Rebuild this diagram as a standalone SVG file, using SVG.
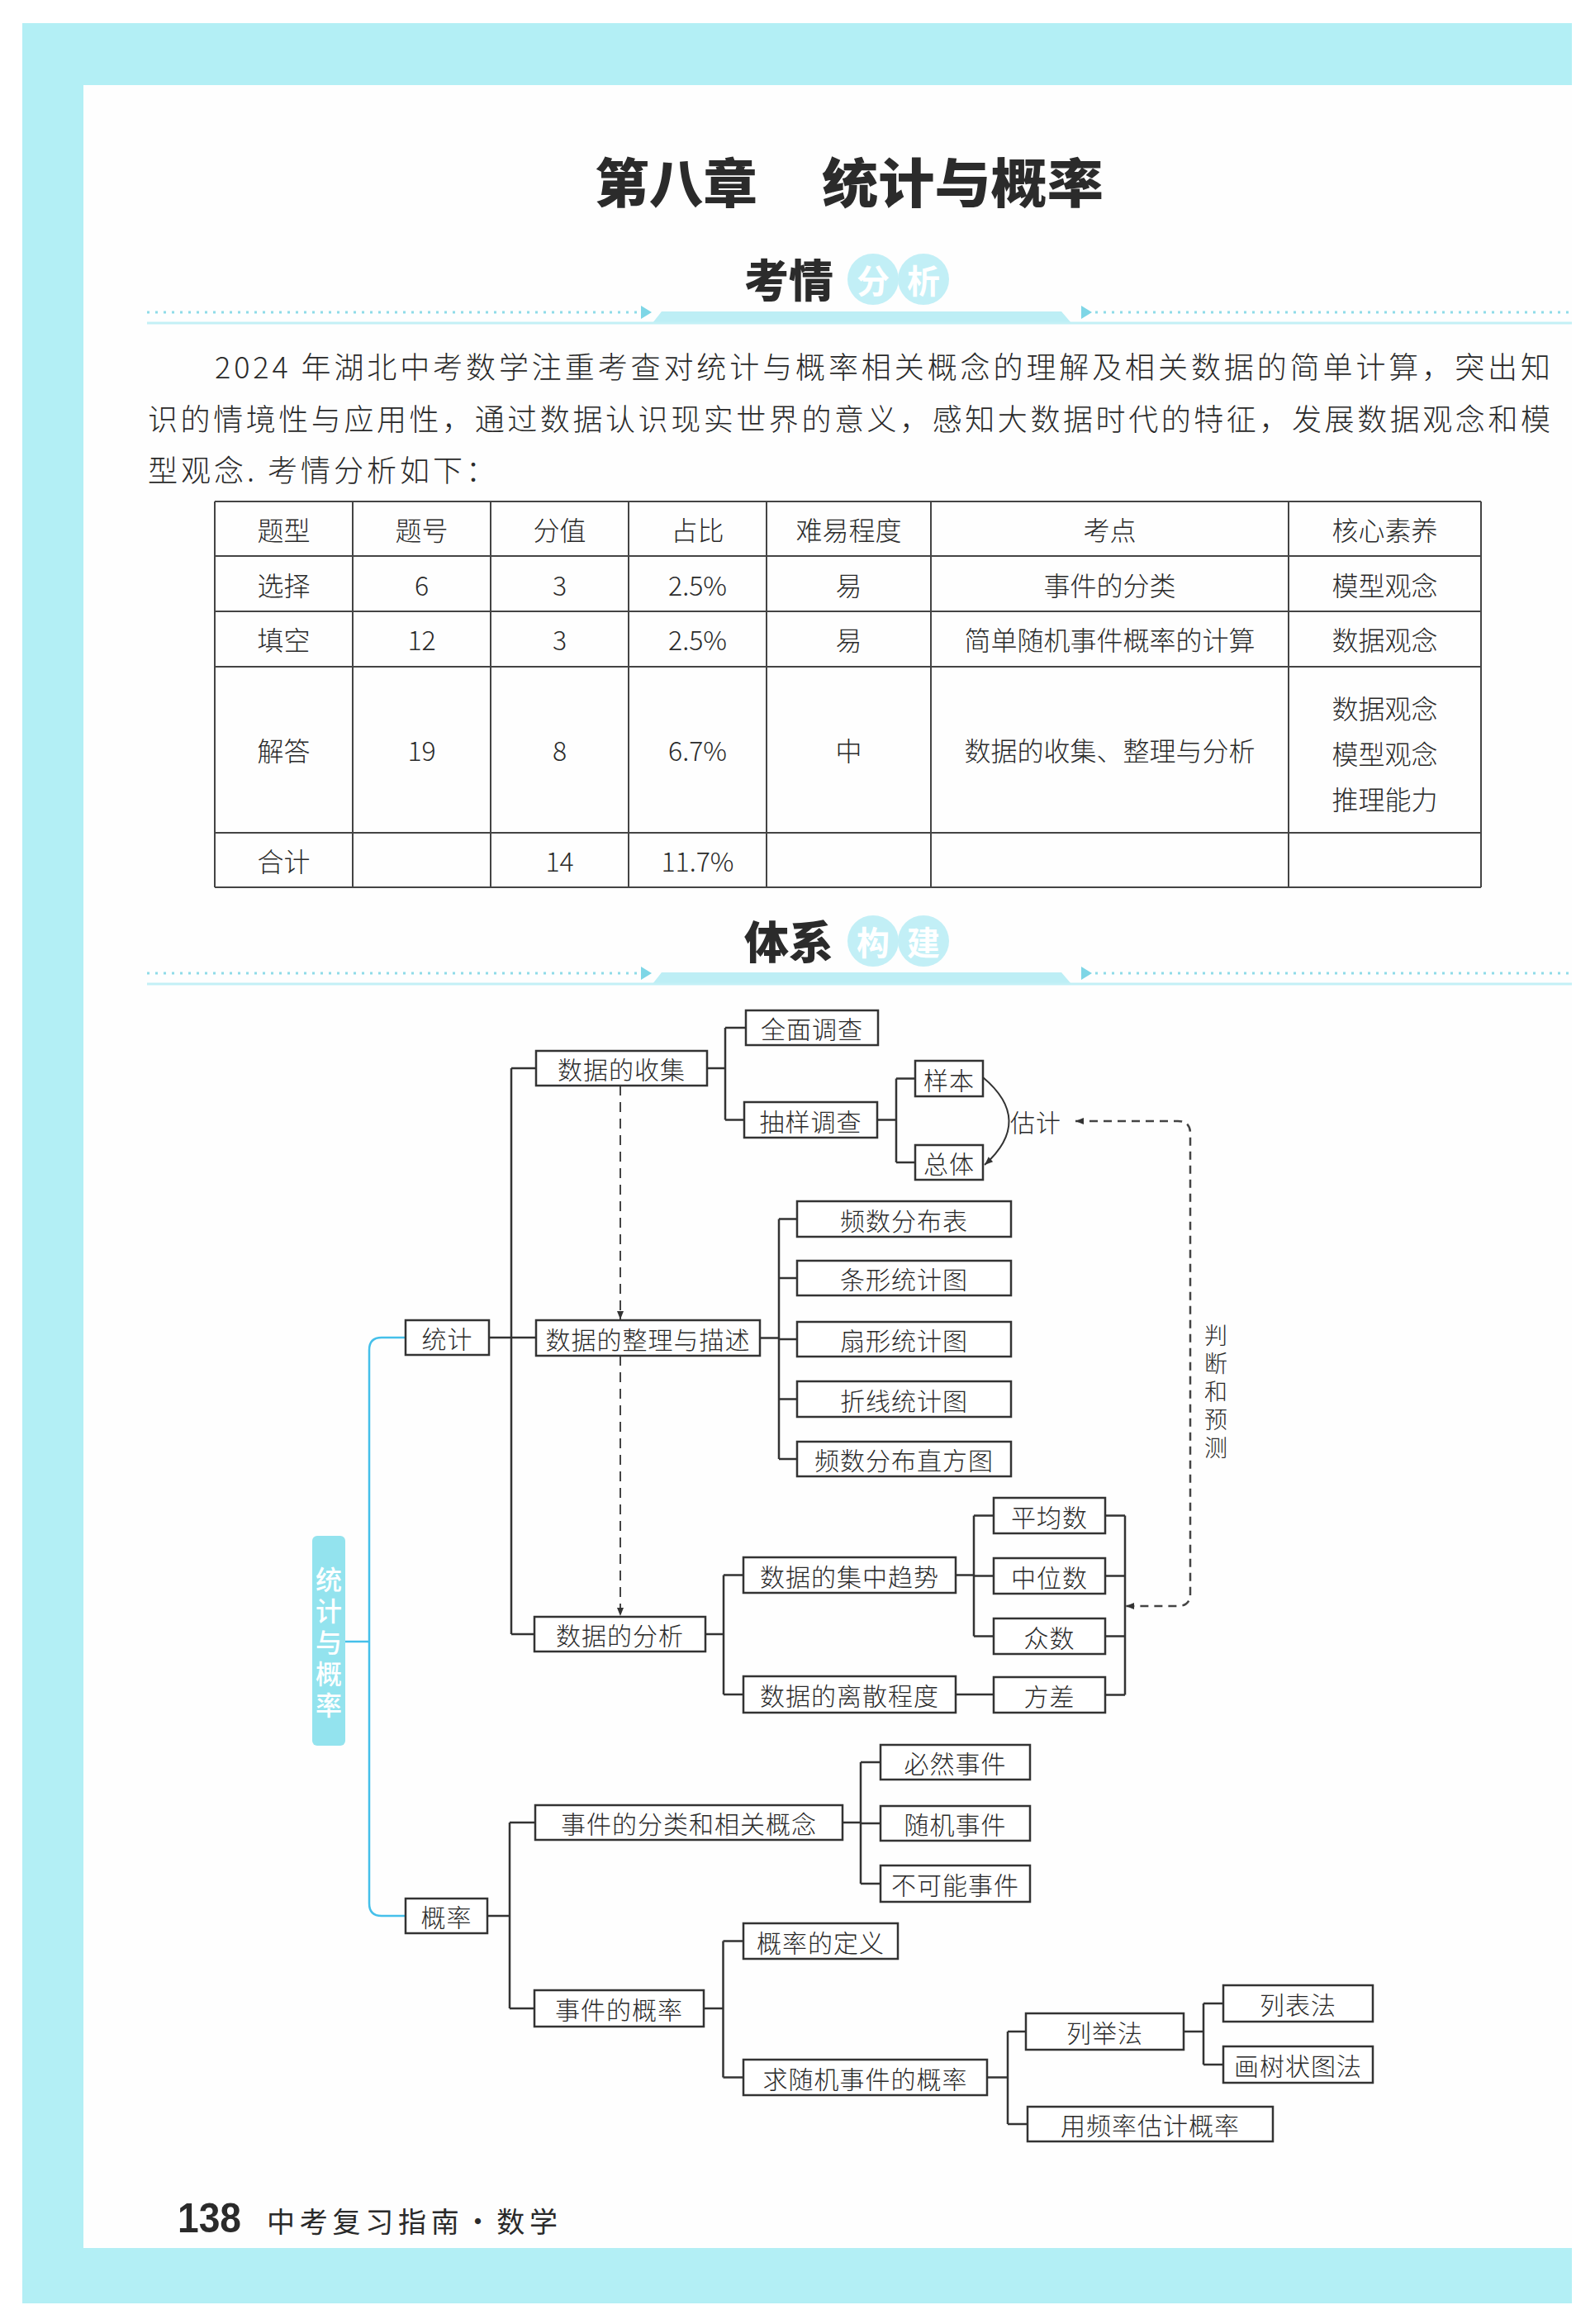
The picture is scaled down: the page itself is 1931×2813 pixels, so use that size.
<svg xmlns="http://www.w3.org/2000/svg" width="1931" height="2813" viewBox="0 0 1931 2813">
<style>
.box{fill:#fff;stroke:#333;stroke-width:2.5}
.bt{font-family:"Noto Sans CJK SC","Noto Sans CJK TC",sans-serif;font-size:30px;fill:#2a2a2a;text-anchor:middle;dominant-baseline:central;font-weight:300;letter-spacing:1px}
.ln{stroke:#333;stroke-width:2.5;fill:none}
.dsh{stroke:#444;stroke-width:2;stroke-dasharray:12 8;fill:none}
.dsh2{stroke:#444;stroke-width:2.5;stroke-dasharray:10 7;fill:none}
.cyl{stroke:#45c0ea;stroke-width:2.5;fill:none}
.tt{font-family:"Noto Sans CJK SC",sans-serif;font-size:32px;fill:#2a2a2a;text-anchor:middle;dominant-baseline:central;font-weight:300}
.tl{stroke:#444;stroke-width:2;fill:none}
.p{font-family:"Noto Sans CJK SC",sans-serif;font-size:36px;fill:#2a2a2a;dominant-baseline:central;font-weight:300}
.hd{font-family:"Noto Sans CJK SC",sans-serif;font-weight:900;fill:#2b2b2b;dominant-baseline:central}
.hc{fill:#c2eff6}
.hct{font-family:"Noto Sans CJK SC",sans-serif;font-weight:700;font-size:40px;fill:#fff;text-anchor:middle;dominant-baseline:central}
.dot{stroke:#8fdbe8;stroke-width:3;stroke-dasharray:3 7;fill:none}
.vt{font-family:"Noto Sans CJK SC",sans-serif;font-size:28px;fill:#2a2a2a;text-anchor:middle;font-weight:300;writing-mode:vertical-rl;letter-spacing:6px}
.rt{font-family:"Noto Sans CJK SC",sans-serif;font-size:32px;fill:#fff;text-anchor:middle;font-weight:500;writing-mode:vertical-rl;letter-spacing:6px}
</style>
<defs>
<marker id="ah" viewBox="0 0 10 10" refX="10" refY="5" markerWidth="14" markerHeight="10" markerUnits="userSpaceOnUse" orient="auto-start-reverse">
<path d="M0,1 L10,5 L0,9 Z" fill="#333"/>
</marker>
<g id="deco">
<path class="dot" d="M178,378 H772 M1326,378 H1903"/>
<path d="M776,370 L789,378 L776,386 Z M1309,370 L1322,378 L1309,386 Z" fill="#7ed6e6"/>
<path d="M801,377 H1285 L1297,391 H790 Z" fill="#bdeef5"/>
<line x1="178" y1="391" x2="1903" y2="391" stroke="#c3f0f6" stroke-width="3"/>
</g>
</defs>

<rect x="0" y="0" width="1931" height="2813" fill="#fff"/>
<rect x="27" y="28" width="1876" height="2760" fill="#b3eff5"/>
<rect x="101" y="103" width="1802" height="2618" fill="#fefefe"/>

<!-- Title -->
<g id="title">
<text class="hd" x="720" y="217" font-size="64" textLength="197" lengthAdjust="spacingAndGlyphs">第八章</text>
<text class="hd" x="995" y="217" font-size="64" textLength="341" lengthAdjust="spacingAndGlyphs">统计与概率</text>
</g>

<!-- Section header 1 -->
<g id="header-kaoqing">
<text class="hd" x="901" y="336" font-size="54" textLength="108" lengthAdjust="spacingAndGlyphs">考情</text>
<circle class="hc" cx="1057" cy="338" r="31"/>
<circle class="hc" cx="1118" cy="338" r="31"/>
<text class="hct" x="1057" y="338">分</text>
<text class="hct" x="1118" y="338">析</text>
<use href="#deco"/>
</g>

<!-- Paragraph -->
<g id="intro">
<text class="p" x="260" y="442" textLength="1617" lengthAdjust="spacing">2024 年湖北中考数学注重考查对统计与概率相关概念的理解及相关数据的简单计算，突出知</text>
<text class="p" x="179" y="505" textLength="1698" lengthAdjust="spacing">识的情境性与应用性，通过数据认识现实世界的意义，感知大数据时代的特征，发展数据观念和模</text>
<text class="p" x="179" y="567" letter-spacing="4">型观念. 考情分析如下：</text>
</g>

<!-- Table -->
<g id="table">
<path class="tl" stroke-width="2.5" d="M260,607 H1793 M260,673 H1793 M260,740 H1793 M260,807 H1793 M260,1008 H1793 M260,1074 H1793"/>
<path class="tl" d="M260,607 V1074 M427,607 V1074 M594,607 V1074 M761,607 V1074 M928,607 V1074 M1127,607 V1074 M1560,607 V1074 M1793,607 V1074"/>
<text class="tt" x="343.5" y="640">题型</text>
<text class="tt" x="510.5" y="640">题号</text>
<text class="tt" x="677.5" y="640">分值</text>
<text class="tt" x="844.5" y="640">占比</text>
<text class="tt" x="1027.5" y="640">难易程度</text>
<text class="tt" x="1343.5" y="640">考点</text>
<text class="tt" x="1676.5" y="640">核心素养</text>

<text class="tt" x="343.5" y="707">选择</text>
<text class="tt" x="510.5" y="707">6</text>
<text class="tt" x="677.5" y="707">3</text>
<text class="tt" x="844.5" y="707">2.5%</text>
<text class="tt" x="1027.5" y="707">易</text>
<text class="tt" x="1343.5" y="707">事件的分类</text>
<text class="tt" x="1676.5" y="707">模型观念</text>

<text class="tt" x="343.5" y="773">填空</text>
<text class="tt" x="510.5" y="773">12</text>
<text class="tt" x="677.5" y="773">3</text>
<text class="tt" x="844.5" y="773">2.5%</text>
<text class="tt" x="1027.5" y="773">易</text>
<text class="tt" x="1343.5" y="773">简单随机事件概率的计算</text>
<text class="tt" x="1676.5" y="773">数据观念</text>

<text class="tt" x="343.5" y="907">解答</text>
<text class="tt" x="510.5" y="907">19</text>
<text class="tt" x="677.5" y="907">8</text>
<text class="tt" x="844.5" y="907">6.7%</text>
<text class="tt" x="1027.5" y="907">中</text>
<text class="tt" x="1343.5" y="907">数据的收集、整理与分析</text>
<text class="tt" x="1676.5" y="856">数据观念</text>
<text class="tt" x="1676.5" y="911">模型观念</text>
<text class="tt" x="1676.5" y="966">推理能力</text>

<text class="tt" x="343.5" y="1041">合计</text>
<text class="tt" x="677.5" y="1041">14</text>
<text class="tt" x="844.5" y="1041">11.7%</text>
</g>

<!-- Section header 2 -->
<g id="header-tixi">
<text class="hd" x="901" y="1137" font-size="54" textLength="108" lengthAdjust="spacingAndGlyphs">体系</text>
<circle class="hc" cx="1057" cy="1139" r="31"/>
<circle class="hc" cx="1118" cy="1139" r="31"/>
<text class="hct" x="1057" y="1139">构</text>
<text class="hct" x="1118" y="1139">建</text>
<use href="#deco" y="800"/>
</g>

<!-- Connectors -->
<g id="connectors">
<path class="cyl" d="M418,1987 H447 M491,1619 H462 Q447,1619 447,1634 V2304 Q447,2319 462,2319 H491"/>
<path class="ln" d="M592,1619 H649 M619,1293 V1978 M619,1293 H649 M619,1978 H647
M856,1293 H878 M878,1244 V1355.5 M878,1244 H903 M878,1355.5 H901
M1062,1355.5 H1085 M1085,1305.5 V1407 M1085,1305.5 H1108 M1085,1407 H1108
M920,1619.5 H943 M943,1475.5 V1766 M943,1475.5 H965 M943,1547 H965 M943,1621 H965 M943,1693.5 H965 M943,1766 H965
M854,1978 H876 M876,1906.5 V2051 M876,1906.5 H900 M876,2051 H900
M1157,1906.5 H1179 M1179,1834.5 V1980.5 M1179,1834.5 H1203 M1179,1907.5 H1203 M1179,1980.5 H1203
M1157,2051 H1203
M1338,1834.5 H1362 M1338,1907.5 H1362 M1338,1980.5 H1362 M1338,2051.5 H1362 M1362,1834.5 V2051.5
M590,2319 H617 M617,2206 V2431 M617,2206 H648 M617,2431 H647
M1020,2206 H1042 M1042,2133 V2280 M1042,2133 H1066 M1042,2207 H1066 M1042,2280 H1066
M852,2431 H875.5 M875.5,2349.5 V2514.5 M875.5,2349.5 H900 M875.5,2514.5 H900
M1195,2514.5 H1220 M1220,2459 V2571 M1220,2459 H1242 M1220,2571 H1244
M1433,2459 H1457 M1457,2425 V2499 M1457,2425 H1481 M1457,2499 H1481"/>
<path class="dsh" d="M751,1314 V1597" marker-end="url(#ah)"/>
<path class="dsh" d="M751,1641 V1956" marker-end="url(#ah)"/>
<path class="dsh2" d="M1302,1357 H1426 Q1441,1357 1441,1372 V1929 Q1441,1944 1426,1944 H1363" marker-start="url(#ah)" marker-end="url(#ah)"/>
<path stroke="#333" stroke-width="2" fill="none" d="M1190,1304 Q1252,1356 1192,1410" marker-end="url(#ah)"/>
<text class="bt" x="1254" y="1357">估计</text>
<text id="label-panduan" class="vt" x="1472" y="1687">判断和预测</text>
</g>

<!-- Root -->
<g id="root">
<rect x="378" y="1859" width="40" height="254" rx="6" fill="#93e3ee"/>
<text class="rt" x="398" y="1991">统计与概率</text>
</g>

<!-- Nodes -->
<g id="n-stat"><rect class="box" x="491" y="1598" width="101" height="42"/><text class="bt" x="541.5" y="1619">统计</text></g>
<g id="n-prob"><rect class="box" x="491" y="2298" width="99" height="42"/><text class="bt" x="540.5" y="2319">概率</text></g>
<g id="n-collect"><rect class="box" x="649" y="1272" width="207" height="42"/><text class="bt" x="752.5" y="1293">数据的收集</text></g>
<g id="n-census"><rect class="box" x="903" y="1223" width="160" height="42"/><text class="bt" x="983" y="1244">全面调查</text></g>
<g id="n-sampling"><rect class="box" x="901" y="1334" width="161" height="43"/><text class="bt" x="981.5" y="1355.5">抽样调查</text></g>
<g id="n-sample"><rect class="box" x="1108" y="1284" width="82" height="43"/><text class="bt" x="1149" y="1305.5">样本</text></g>
<g id="n-population"><rect class="box" x="1108" y="1386" width="82" height="42"/><text class="bt" x="1149" y="1407">总体</text></g>
<g id="n-organize"><rect class="box" x="649" y="1598" width="271" height="43"/><text class="bt" x="784.5" y="1619.5">数据的整理与描述</text></g>
<g id="n-c1"><rect class="box" x="965" y="1454" width="259" height="43"/><text class="bt" x="1094.5" y="1475.5">频数分布表</text></g>
<g id="n-c2"><rect class="box" x="965" y="1526" width="259" height="42"/><text class="bt" x="1094.5" y="1547">条形统计图</text></g>
<g id="n-c3"><rect class="box" x="965" y="1600" width="259" height="42"/><text class="bt" x="1094.5" y="1621">扇形统计图</text></g>
<g id="n-c4"><rect class="box" x="965" y="1672" width="259" height="43"/><text class="bt" x="1094.5" y="1693.5">折线统计图</text></g>
<g id="n-c5"><rect class="box" x="965" y="1745" width="259" height="42"/><text class="bt" x="1094.5" y="1766">频数分布直方图</text></g>
<g id="n-analysis"><rect class="box" x="647" y="1957" width="207" height="42"/><text class="bt" x="750.5" y="1978">数据的分析</text></g>
<g id="n-central"><rect class="box" x="900" y="1885" width="257" height="43"/><text class="bt" x="1028.5" y="1906.5">数据的集中趋势</text></g>
<g id="n-dispersion"><rect class="box" x="900" y="2029" width="257" height="44"/><text class="bt" x="1028.5" y="2051">数据的离散程度</text></g>
<g id="n-mean"><rect class="box" x="1203" y="1813" width="135" height="43"/><text class="bt" x="1270.5" y="1834.5">平均数</text></g>
<g id="n-median"><rect class="box" x="1203" y="1886" width="135" height="43"/><text class="bt" x="1270.5" y="1907.5">中位数</text></g>
<g id="n-mode"><rect class="box" x="1203" y="1959" width="135" height="43"/><text class="bt" x="1270.5" y="1980.5">众数</text></g>
<g id="n-variance"><rect class="box" x="1203" y="2030" width="135" height="43"/><text class="bt" x="1270.5" y="2051.5">方差</text></g>
<g id="n-evclass"><rect class="box" x="648" y="2185" width="372" height="42"/><text class="bt" x="834" y="2206">事件的分类和相关概念</text></g>
<g id="n-sure"><rect class="box" x="1066" y="2112" width="181" height="42"/><text class="bt" x="1156.5" y="2133">必然事件</text></g>
<g id="n-random"><rect class="box" x="1066" y="2186" width="181" height="42"/><text class="bt" x="1156.5" y="2207">随机事件</text></g>
<g id="n-impossible"><rect class="box" x="1066" y="2258" width="181" height="44"/><text class="bt" x="1156.5" y="2280">不可能事件</text></g>
<g id="n-evprob"><rect class="box" x="647" y="2409" width="205" height="44"/><text class="bt" x="749.5" y="2431">事件的概率</text></g>
<g id="n-pdef"><rect class="box" x="900" y="2328" width="187" height="43"/><text class="bt" x="993.5" y="2349.5">概率的定义</text></g>
<g id="n-findp"><rect class="box" x="900" y="2493" width="295" height="43"/><text class="bt" x="1047.5" y="2514.5">求随机事件的概率</text></g>
<g id="n-enum"><rect class="box" x="1242" y="2437" width="191" height="44"/><text class="bt" x="1337.5" y="2459">列举法</text></g>
<g id="n-freq"><rect class="box" x="1244" y="2550" width="297" height="42"/><text class="bt" x="1392.5" y="2571">用频率估计概率</text></g>
<g id="n-listtable"><rect class="box" x="1481" y="2403" width="181" height="44"/><text class="bt" x="1571.5" y="2425">列表法</text></g>
<g id="n-treediagram"><rect class="box" x="1481" y="2477" width="181" height="44"/><text class="bt" x="1571.5" y="2499">画树状图法</text></g>

<!-- Footer -->
<g id="footer">
<text x="215" y="2685" font-family="Liberation Sans, sans-serif" font-weight="bold" font-size="50" fill="#2a2a2a" textLength="77" lengthAdjust="spacingAndGlyphs" dominant-baseline="central">138</text>
<text x="323" y="2687" font-family="Noto Sans CJK SC, sans-serif" font-size="34" fill="#2a2a2a" textLength="352" lengthAdjust="spacing" dominant-baseline="central">中考复习指南·数学</text>
</g>
</svg>
